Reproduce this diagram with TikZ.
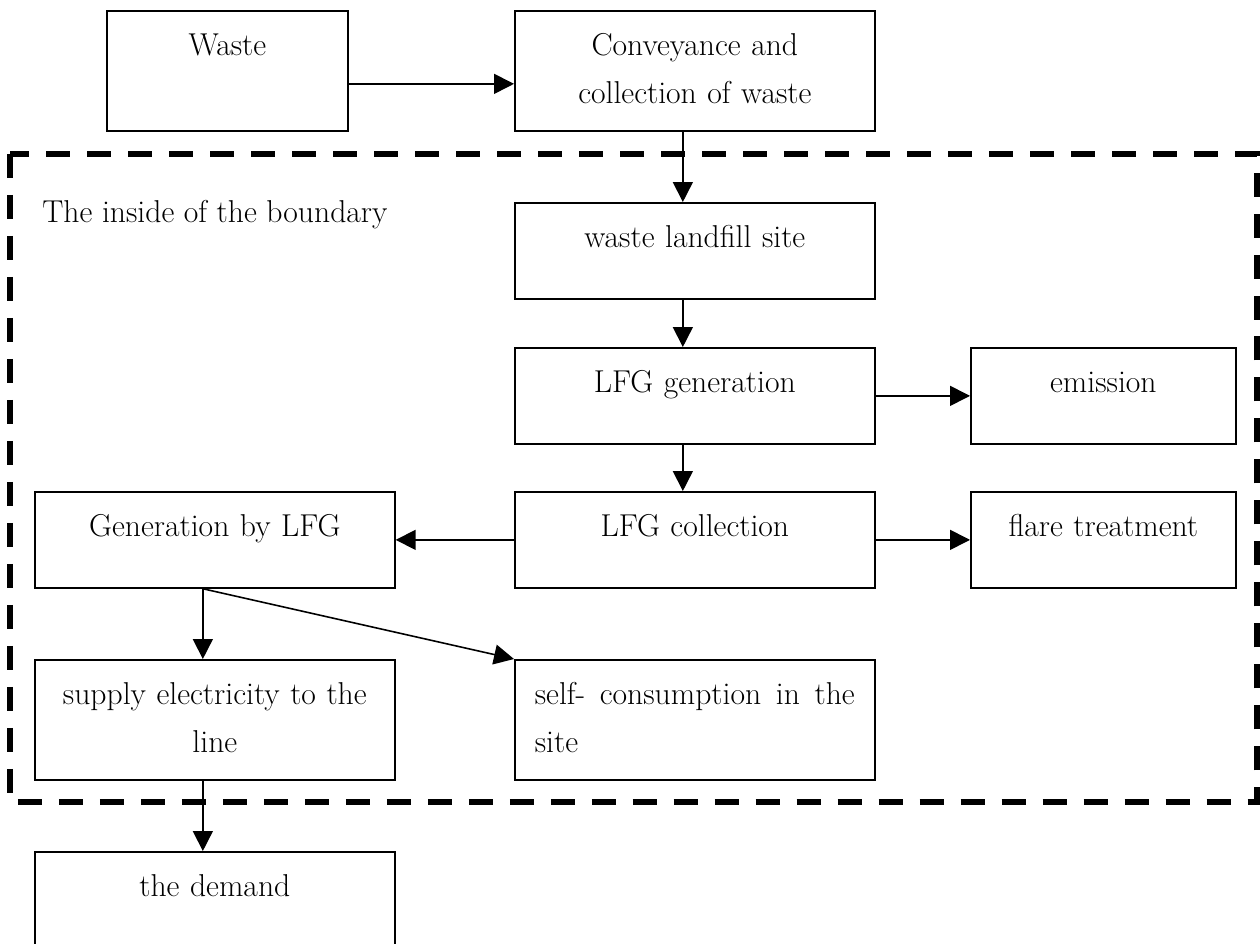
\documentclass[tikz,border=0pt]{standalone}
\usetikzlibrary{arrows.meta}
\begin{document}
\begin{tikzpicture}[x=0.02cm, y=-0.02cm,
    every node/.style={inner sep=0pt, font=\fontsize{18}{27.3}\selectfont},
    box/.style={draw, line width=1pt, anchor=north west, minimum width=7.2cm, minimum height=1.92cm},
    tall/.style={minimum height=2.4cm},
    tag/.style={anchor=north, text width=6.8cm, align=center, execute at begin node={\rule{0pt}{0.48cm}}},
    flow/.style={line width=0.9pt, -{Triangle[length=0.4cm, width=0.4cm]}},
    boundary/.style={line width=3.4pt, dash pattern=on 0.48cm off 0.34cm}]
      \useasboundingbox (0,0) rectangle (1260,943);
      \clip (0,0) rectangle (1260,943);
      \draw[boundary] (10,154) rectangle (1257,802);
      \node[anchor=base west] (inside) at (42,222) {The inside of the boundary};
      \node[box, tall, minimum width=4.82cm] (waste) at (106,10) {};
      \node[box, tall] (convey) at (514,10) {};
      \node[box] (landfill) at (514,202) {};
      \node[box] (lfggen) at (514,347) {};
      \node[box, minimum width=5.3cm] (emission) at (970,347) {};
      \node[box] (lfgcol) at (514,491) {};
      \node[box, minimum width=5.3cm] (flare) at (970,491) {};
      \node[box] (genlfg) at (34,491) {};
      \node[box, tall] (supply) at (34,659) {};
      \node[box, tall] (selfuse) at (514,659) {};
      \node[box, tall] (demand) at (34,851) {};
      \node[tag] (wasteT) at ([yshift=-0.42cm]waste.north) {Waste};
      \node[tag] (conveyT) at ([yshift=-0.42cm]convey.north) {Conveyance and\\collection of waste};
      \node[tag] (landfillT) at ([yshift=-0.42cm]landfill.north) {waste landfill site};
      \node[tag] (lfggenT) at ([yshift=-0.42cm]lfggen.north) {LFG generation};
      \node[tag] (emissionT) at ([yshift=-0.42cm]emission.north) {emission};
      \node[tag] (lfgcolT) at ([yshift=-0.42cm]lfgcol.north) {LFG collection};
      \node[tag] (flareT) at ([yshift=-0.42cm]flare.north) {flare treatment};
      \node[tag] (genlfgT) at ([yshift=-0.42cm]genlfg.north) {Generation by LFG};
      \node[tag] (supplyT) at ([yshift=-0.42cm]supply.north) {supply electricity to the\\line};
      \node[tag, text width=6.4cm, align=left] (selfuseT) at ([yshift=-0.42cm]selfuse.north) {self-\hfill consumption\hfill in\hfill the\\site};
      \node[tag] (demandT) at ([yshift=-0.42cm]demand.north) {the demand};
      \draw[flow] ([yshift=-0.26cm]waste.east) -- ([yshift=-0.26cm]convey.west);
      \draw[flow] ([xshift=-0.24cm]convey.south) -- ([xshift=-0.24cm]landfill.north);
      \draw[flow] ([xshift=-0.24cm]landfill.south) -- ([xshift=-0.24cm]lfggen.north);
      \draw[flow] ([xshift=-0.24cm]lfggen.south) -- ([xshift=-0.24cm]lfgcol.north);
      \draw[flow] (lfggen.east) -- (emission.west);
      \draw[flow] (lfgcol.east) -- (flare.west);
      \draw[flow] (lfgcol.west) -- (genlfg.east);
      \draw[flow] ([xshift=-0.24cm]genlfg.south) -- ([xshift=-0.24cm]supply.north);
      \draw[flow] ([xshift=-0.24cm]genlfg.south) -- (selfuse.north west);
      \draw[flow] ([xshift=-0.24cm]supply.south) -- ([xshift=-0.24cm]demand.north);
    \end{tikzpicture}
\end{document}
